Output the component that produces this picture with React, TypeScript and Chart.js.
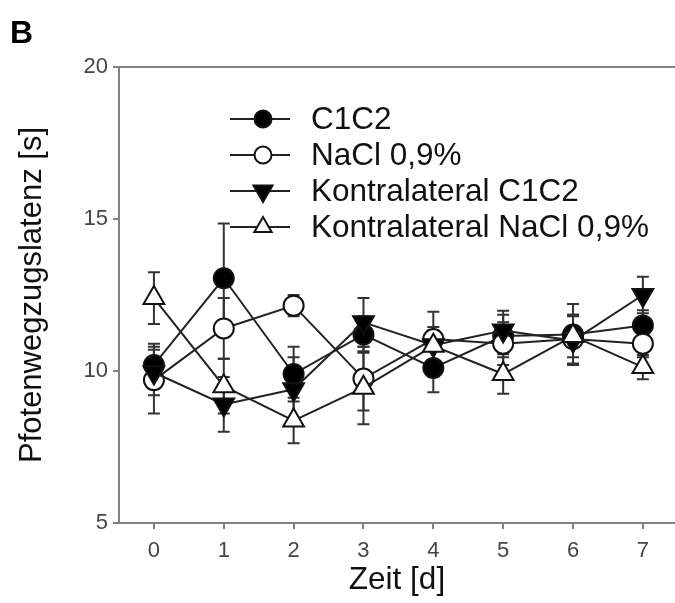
import React, { useEffect, useRef } from 'react';
import { Chart, registerables } from 'chart.js';

Chart.register(...registerables);

// ---- data ----
const days = [0, 1, 2, 3, 4, 5, 6, 7];
const yTicks = [5, 10, 15, 20];
const seriesNames = ['C1C2', 'NaCl 0,9%', 'Kontralateral C1C2', 'Kontralateral NaCl 0,9%'];

const c1c2 = [10.2, 13.05, 9.9, 11.2, 10.1, 11.15, 11.2, 11.5];
const c1c2Err = [0.7, 1.8, 0.9, 0.6, 0.8, 0.7, 1.0, 0.5];

const nacl = [9.7, 11.4, 12.15, 9.75, 11.05, 10.9, 11.05, 10.9];
const naclErr = [1.1, 1.0, 0.35, 1.05, 0.9, 0.7, 0.8, 0.45];

const kc1c2 = [9.95, 8.9, 9.4, 11.6, 10.85, 11.33, 11.0, 12.5];
const kc1c2Err = [0.75, 0.9, 1.05, 0.8, 0.6, 0.65, 0.8, 0.6];

const knacl = [12.4, 9.5, 8.37, 9.45, 10.83, 9.9, 11.15, 10.13];
const kanclErr = [0.85, 0.9, 0.75, 1.2, 0.5, 0.65, 0.7, 0.4];

const FONT = '"Liberation Sans", Arial, Helvetica, sans-serif';
const AXIS = '#808080';
const INK = '#111111';

type Style = { pointStyle: string; rotation: number; fill: string; radius: number; legendRadius: number };
const styles: Style[] = [
  { pointStyle: 'circle', rotation: 0, fill: '#000000', radius: 10, legendRadius: 8.5 },
  { pointStyle: 'circle', rotation: 0, fill: '#ffffff', radius: 10, legendRadius: 8.5 },
  { pointStyle: 'triangle', rotation: 180, fill: '#000000', radius: 12, legendRadius: 11 },
  { pointStyle: 'triangle', rotation: 0, fill: '#ffffff', radius: 12, legendRadius: 10 },
];

function drawMarker(ctx: CanvasRenderingContext2D, s: Style, x: number, y: number, r: number) {
  ctx.beginPath();
  if (s.pointStyle === 'circle') {
    ctx.arc(x, y, r, 0, Math.PI * 2);
  } else {
    let rad = (s.rotation * Math.PI) / 180;
    ctx.moveTo(x + Math.sin(rad) * r, y - Math.cos(rad) * r);
    rad += (2 * Math.PI) / 3;
    ctx.lineTo(x + Math.sin(rad) * r, y - Math.cos(rad) * r);
    rad += (2 * Math.PI) / 3;
    ctx.lineTo(x + Math.sin(rad) * r, y - Math.cos(rad) * r);
    ctx.closePath();
  }
  ctx.fillStyle = s.fill;
  ctx.fill();
  ctx.lineWidth = 2;
  ctx.strokeStyle = INK;
  ctx.stroke();
}

export default function App() {
  const ref = useRef<HTMLCanvasElement>(null);

  useEffect(() => {
    if (!ref.current) return;
    const values = [c1c2, nacl, kc1c2, knacl];
    const errs = [c1c2Err, naclErr, kc1c2Err, kanclErr];

    const errorBars = {
      id: 'errorBars',
      beforeDatasetsDraw(chart: any) {
        const { ctx, scales } = chart;
        const x = scales.x;
        const y = scales.y;
        ctx.save();
        ctx.strokeStyle = '#333333';
        ctx.lineWidth = 2;
        values.forEach((vals, i) => {
          vals.forEach((v, j) => {
            const e = errs[i][j];
            const px = x.getPixelForValue(days[j]);
            const top = y.getPixelForValue(v + e);
            const bot = y.getPixelForValue(v - e);
            ctx.beginPath();
            ctx.moveTo(px, top);
            ctx.lineTo(px, bot);
            ctx.moveTo(px - 6, top);
            ctx.lineTo(px + 6, top);
            ctx.moveTo(px - 6, bot);
            ctx.lineTo(px + 6, bot);
            ctx.stroke();
          });
        });
        ctx.restore();
      },
    };

    const frameAndLegend = {
      id: 'frameAndLegend',
      afterDraw(chart: any) {
        const { ctx, chartArea } = chart;
        ctx.save();
        // top frame line
        ctx.strokeStyle = AXIS;
        ctx.lineWidth = 2;
        ctx.beginPath();
        ctx.moveTo(chartArea.left - 1, chartArea.top);
        ctx.lineTo(chartArea.right, chartArea.top);
        ctx.stroke();

        // panel letter
        ctx.fillStyle = '#000000';
        ctx.font = `bold 32px ${FONT}`;
        ctx.textBaseline = 'alphabetic';
        ctx.textAlign = 'left';
        ctx.fillText('B', 10, 43);

        // legend
        const x0 = 230;
        const x1 = 290;
        const xm = 263;
        const tx = 311;
        const y0 = 119;
        const step = 36;
        seriesNames.forEach((name, i) => {
          const yy = y0 + i * step;
          ctx.strokeStyle = '#222222';
          ctx.lineWidth = 2;
          ctx.beginPath();
          ctx.moveTo(x0, yy);
          ctx.lineTo(x1, yy);
          ctx.stroke();
          drawMarker(ctx, styles[i], xm, yy, styles[i].legendRadius);
          ctx.fillStyle = INK;
          ctx.font = `31.5px ${FONT}`;
          ctx.textBaseline = 'middle';
          ctx.textAlign = 'left';
          ctx.fillText(name, tx, yy + 1);
        });
        ctx.restore();
      },
    };

    const datasets = values.map((vals, i) => ({
      label: seriesNames[i],
      data: vals.map((v, j) => ({ x: days[j], y: v })),
      borderColor: '#222222',
      borderWidth: 2,
      pointStyle: styles[i].pointStyle,
      rotation: styles[i].rotation,
      pointRadius: styles[i].radius,
      pointBackgroundColor: styles[i].fill,
      pointBorderColor: INK,
      pointBorderWidth: 2,
      showLine: true,
      fill: false,
      tension: 0,
      order: 3 - i,
    }));

    const chart = new Chart(ref.current, {
      type: 'scatter',
      data: { datasets },
      options: {
        animation: false,
        responsive: false,
        devicePixelRatio: 1,
        layout: { autoPadding: false, padding: { left: 0, right: 0, top: 67, bottom: 0 } },
        plugins: {
          legend: { display: false },
          tooltip: { enabled: false },
        },
        scales: {
          x: {
            type: 'linear',
            min: -0.5,
            max: 7.46,
            afterBuildTicks: (s: any) => {
              s.ticks = days.map((v) => ({ value: v }));
            },
            afterFit: (s: any) => {
              s.height = 80;
              s.paddingLeft = 0;
              s.paddingRight = 0;
            },
            ticks: {
              color: '#444444',
              font: { family: FONT, size: 22 },
              padding: 9,
              maxRotation: 0,
              autoSkip: false,
              callback: (v: any) => String(v),
            },
            grid: {
              display: true,
              drawOnChartArea: false,
              drawTicks: true,
              tickLength: 6,
              color: AXIS,
              lineWidth: 2,
            },
            border: { display: true, color: AXIS, width: 2 },
            title: {
              display: true,
              text: 'Zeit [d]',
              color: INK,
              font: { family: FONT, size: 31.5 },
              padding: { top: 0, bottom: 4 },
            },
          },
          y: {
            type: 'linear',
            min: 5,
            max: 20,
            afterBuildTicks: (s: any) => {
              s.ticks = yTicks.map((v) => ({ value: v }));
            },
            afterFit: (s: any) => {
              s.width = 119;
              s.paddingTop = 0;
              s.paddingBottom = 0;
            },
            ticks: {
              color: '#444444',
              font: { family: FONT, size: 22 },
              padding: 5,
              callback: (v: any) => String(v),
            },
            grid: {
              display: true,
              drawOnChartArea: false,
              drawTicks: true,
              tickLength: 6,
              color: AXIS,
              lineWidth: 2,
            },
            border: { display: true, color: AXIS, width: 2 },
            title: {
              display: true,
              text: 'Pfotenwegzugslatenz [s]',
              color: INK,
              font: { family: FONT, size: 31 },
              padding: { top: 14, bottom: 0 },
            },
          },
        },
      },
      plugins: [errorBars, frameAndLegend],
    } as any);

    return () => chart.destroy();
  }, []);

  return (
    <div
      style={{
        position: 'fixed',
        left: 0,
        top: 0,
        width: 675,
        height: 603,
        overflow: 'hidden',
        background: '#ffffff',
      }}
    >
      <canvas ref={ref} width={675} height={603} style={{ display: 'block', width: 675, height: 603 }} />
    </div>
  );
}
